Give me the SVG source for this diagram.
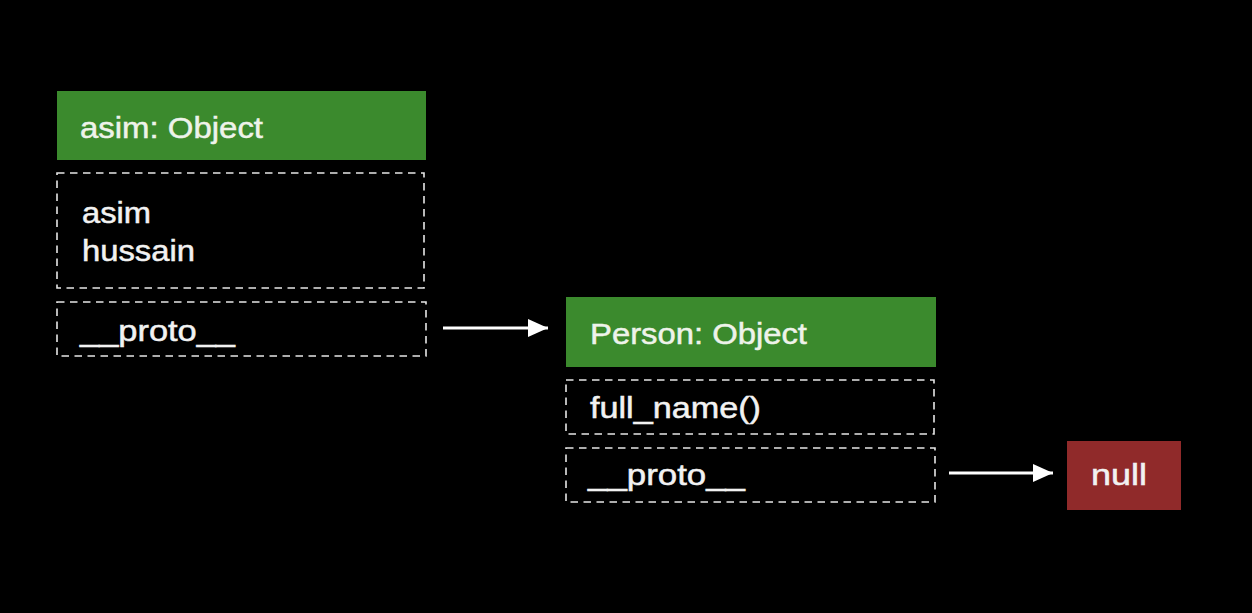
<svg xmlns="http://www.w3.org/2000/svg" width="1252" height="613" viewBox="0 0 1252 613">
<defs>
<style>
.hdr{fill:#3b8a2d}
.nul{fill:#902a2a}
.dash{fill:none;stroke:#e6e6e6;stroke-width:1.6;stroke-dasharray:7.5 5.5}
.t{font-family:"Liberation Sans",Arial,sans-serif;font-size:30px;fill:#f2f2f2;stroke:#f2f2f2;stroke-width:0.5}
.ht{fill:#eef3ea;stroke:#eef3ea}
.conn{stroke:#ffffff;stroke-width:3;fill:none}
</style>
<marker id="ah" viewBox="0 0 20 18" refX="20" refY="9" markerWidth="20" markerHeight="18" markerUnits="userSpaceOnUse" orient="auto">
<path d="M0,0 L20,9 L0,18 Z" fill="#ffffff"/>
</marker>
</defs>
<rect width="1252" height="613" fill="#000000"/>
<g id="asim">
<rect class="hdr" x="57" y="91" width="369" height="69"/>
<text class="t ht" x="80" y="138" textLength="183" lengthAdjust="spacingAndGlyphs">asim: Object</text>
<rect class="dash" x="57" y="173" width="367" height="115"/>
<text class="t" x="82" y="223" textLength="69" lengthAdjust="spacingAndGlyphs">asim</text>
<text class="t" x="82" y="261" textLength="113" lengthAdjust="spacingAndGlyphs">hussain</text>
<rect class="dash" x="57" y="302" width="369" height="54"/>
<text class="t" x="80" y="341" textLength="155" lengthAdjust="spacingAndGlyphs">__proto__</text>
</g>
<g id="person">
<rect class="hdr" x="566" y="297" width="370" height="70"/>
<text class="t ht" x="590" y="344" textLength="217" lengthAdjust="spacingAndGlyphs">Person: Object</text>
<rect class="dash" x="566" y="380" width="368" height="54"/>
<text class="t" x="590" y="418" textLength="171" lengthAdjust="spacingAndGlyphs">full_name()</text>
<rect class="dash" x="566" y="448" width="369" height="54"/>
<text class="t" x="588" y="485" textLength="157" lengthAdjust="spacingAndGlyphs">__proto__</text>
</g>
<g id="null">
<rect class="nul" x="1067" y="441" width="114" height="69"/>
<text class="t" x="1091" y="485" textLength="56" lengthAdjust="spacingAndGlyphs">null</text>
</g>
<g id="connectors">
<line class="conn" x1="443" y1="328" x2="548" y2="328" marker-end="url(#ah)"/>
<line class="conn" x1="949" y1="473" x2="1053" y2="473" marker-end="url(#ah)"/>
</g>
</svg>
